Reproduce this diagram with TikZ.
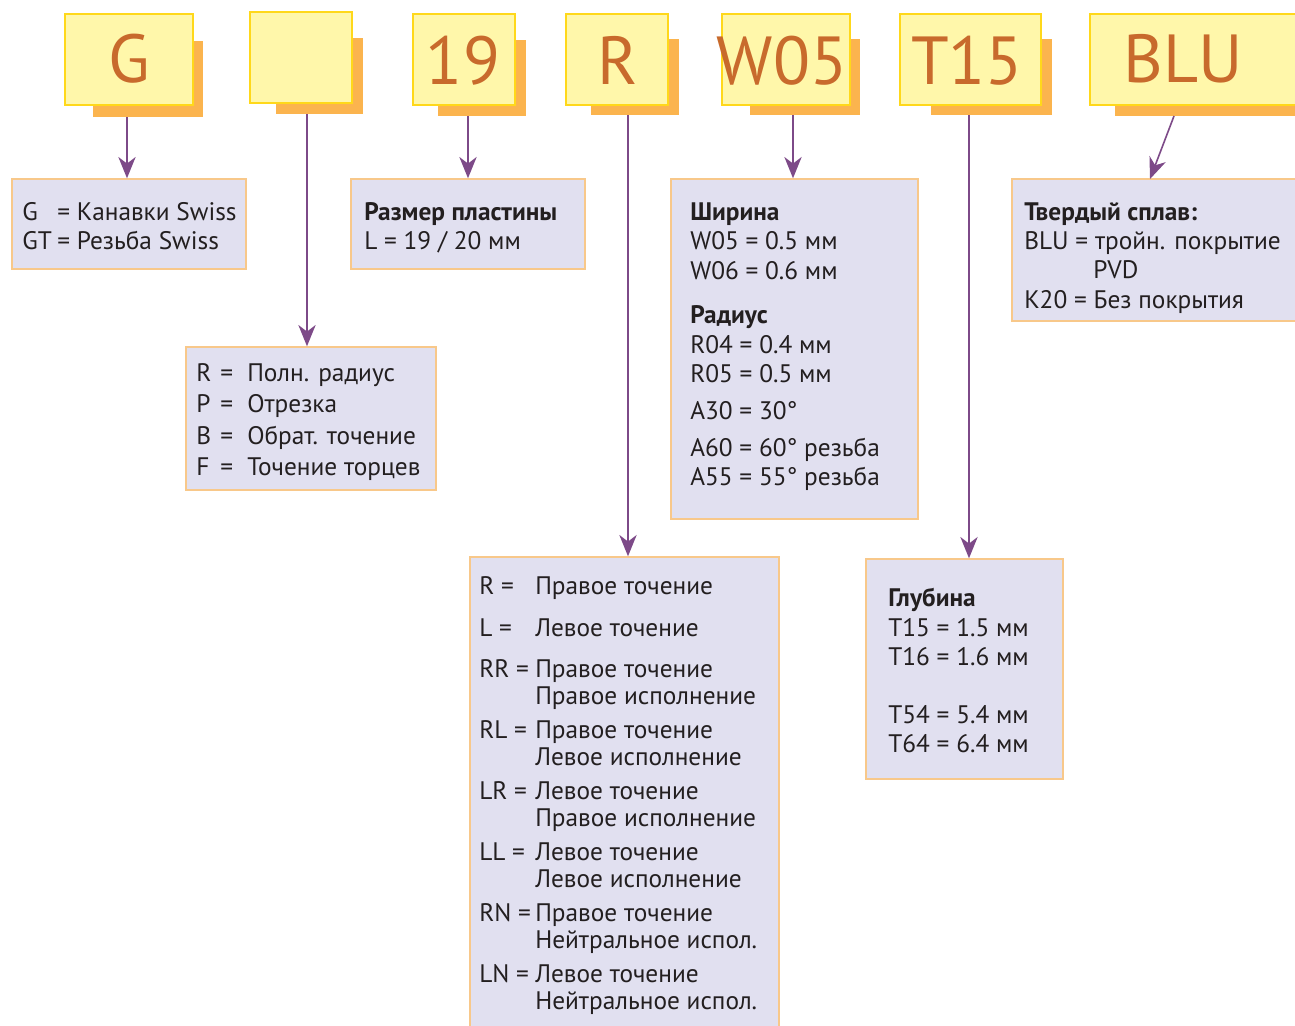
\documentclass[tikz,border=0pt]{standalone}
\usepackage{fontspec}
\setmainfont{PT Sans}
\usetikzlibrary{fit,arrows.meta}
\definecolor{frontfill}{HTML}{FFF7AA}
\definecolor{frontdraw}{HTML}{FFD81A}
\definecolor{shadowc}{HTML}{FBB44E}
\definecolor{bigtxt}{HTML}{C86A2C}
\definecolor{lowfill}{HTML}{E1E0F0}
\definecolor{lowdraw}{HTML}{F8C88A}
\definecolor{arrc}{HTML}{7D4A88}
\definecolor{txtc}{HTML}{231F20}
\tikzset{
  shadowbox/.style={fill=shadowc, draw=none, inner sep=0pt},
  frontbox/.style={fill=frontfill, draw=frontdraw, line width=1.2pt, inner sep=0pt},
  lowbox/.style={fill=lowfill, draw=lowdraw, line width=1.1pt, inner sep=0pt},
  bigletter/.style={font=\fontsize{51}{51}\selectfont, text=bigtxt, inner sep=0pt, anchor=base},
  txt/.style={font=\fontsize{19}{20}\selectfont, text=txtc, inner sep=0pt, anchor=base west},
  btxt/.style={txt, font=\fontsize{19}{20}\selectfont\bfseries},
  arr/.style={draw=arrc, line width=1.2pt, -{Stealth[length=16pt,width=13pt,inset=5pt]}}
}
\begin{document}
\begin{tikzpicture}[x=0.75pt,y=-0.75pt]
\useasboundingbox (0,0) rectangle (1295,1025);
% shadows
\node[shadowbox, fit={(93,41) (203,117)}] (sG) {};
\node[shadowbox, fit={(276,38) (363,114)}] (s2) {};
\node[shadowbox, fit={(438,40) (526,116)}] (s19) {};
\node[shadowbox, fit={(591,39) (679,115)}] (sR) {};
\node[shadowbox, fit={(750,39) (860,115)}] (sW) {};
\node[shadowbox, fit={(931,39) (1052,115)}] (sT) {};
\node[shadowbox, fit={(1115,39) (1295,116)}] (sB) {};
% fronts
\node[frontbox, fit={(65,14) (193,105)}] (fG) {};
\node[frontbox, fit={(250,12) (352,103)}] (f2) {};
\node[frontbox, fit={(413,14) (515,105)}] (f19) {};
\node[frontbox, fit={(566,14) (668,105)}] (fR) {};
\node[frontbox, fit={(722,14) (850,105)}] (fW) {};
\node[frontbox, fit={(900,14) (1041,105)}] (fT) {};
\node[frontbox, fit={(1090,14) (1300,105)}] (fB) {};
% big letters
\node[bigletter] (tG) at (129,82) {G};
\node[bigletter] (t19) at (463,84) {19};
\node[bigletter] (tR) at (618,84) {R};
\node[bigletter] (tW) at (782,84) {W05};
\node[bigletter] (tT) at (967,84) {T15};
\node[bigletter] (tB) at (1183,82) {BLU};
% lower boxes
\node[lowbox, fit={(12,179) (246,269)}] (bG) {};
\node[lowbox, fit={(351,179) (585,269)}] (b19) {};
\node[lowbox, fit={(671,179) (918,519)}] (bW) {};
\node[lowbox, fit={(1012,179) (1300,321)}] (bB) {};
\node[lowbox, fit={(186,347) (436,490)}] (bP) {};
\node[lowbox, fit={(470,557) (779,1030)}] (bR) {};
\node[lowbox, fit={(866,559) (1063,779)}] (bT) {};
% arrow x coordinates
\coordinate (aG) at (127,0);
\coordinate (a2) at (307,0);
\coordinate (a19) at (468,0);
\coordinate (aR) at (628,0);
\coordinate (aW) at (793,0);
\coordinate (aT) at (969,0);
\coordinate (aB1) at (1174,116);
\coordinate (aB2) at (1150,179);
\draw[arr] (sG.south -| aG) -- (bG.north -| aG);
\draw[arr] (s2.south -| a2) -- (bP.north -| a2);
\draw[arr] (s19.south -| a19) -- (b19.north -| a19);
\draw[arr] (sR.south -| aR) -- (bR.north -| aR);
\draw[arr] (sW.south -| aW) -- (bW.north -| aW);
\draw[arr] (sT.south -| aT) -- (bT.north -| aT);
\draw[arr] (aB1) -- (aB2);
% box G
\node[txt] (g1a) at (22,220) {G};
\node[txt] (g1b) at (57,220) {= Канавки Swiss};
\node[txt] (g2a) at (22,249) {GT};
\node[txt] (g2b) at (57,249) {= Резьба Swiss};
% box 19
\node[btxt] (n1) at (364,220) {Размер пластины};
\node[txt] (n2) at (364,249) {L = 19 / 20 мм};
% box P
\node[txt] (p1a) at (196,381) {R};
\node[txt] (p1b) at (220,381) {=};
\node[txt] (p1c) at (247,381) {Полн. радиус};
\node[txt] (p2a) at (196,412) {P};
\node[txt] (p2b) at (220,412) {=};
\node[txt] (p2c) at (247,412) {Отрезка};
\node[txt] (p3a) at (196,444) {B};
\node[txt] (p3b) at (220,444) {=};
\node[txt] (p3c) at (247,444) {Обрат. точение};
\node[txt] (p4a) at (196,475) {F};
\node[txt] (p4b) at (220,475) {=};
\node[txt] (p4c) at (247,475) {Точение торцев};
% box W
\node[btxt] (w1) at (690,220) {Ширина};
\node[txt] (w2) at (690,249) {W05 = 0.5 мм};
\node[txt] (w3) at (690,279) {W06 = 0.6 мм};
\node[btxt] (w4) at (690,323) {Радиус};
\node[txt] (w5) at (690,353) {R04 = 0.4 мм};
\node[txt] (w6) at (690,382) {R05 = 0.5 мм};
\node[txt] (w7) at (690,419) {A30 = 30°};
\node[txt] (w8) at (690,456) {A60 = 60° резьба};
\node[txt] (w9) at (690,485) {A55 = 55° резьба};
% box BLU
\node[btxt] (k1) at (1024,220) {Твердый сплав:};
\node[txt] (k2) at (1024,249) {BLU = тройн. покрытие};
\node[txt] (k3) at (1093,278) {PVD};
\node[txt] (k4) at (1024,308) {K20 = Без покрытия};
% box R
\node[txt] (r1a) at (479,594) {R =};
\node[txt] (r1b) at (535,594) {Правое точение};
\node[txt] (r2a) at (479,636) {L =};
\node[txt] (r2b) at (535,636) {Левое точение};
\node[txt] (r3a) at (479,677) {RR =};
\node[txt] (r3b) at (535,677) {Правое точение};
\node[txt] (r3c) at (535,704) {Правое исполнение};
\node[txt] (r4a) at (479,738) {RL =};
\node[txt] (r4b) at (535,738) {Правое точение};
\node[txt] (r4c) at (535,765) {Левое исполнение};
\node[txt] (r5a) at (479,799) {LR =};
\node[txt] (r5b) at (535,799) {Левое точение};
\node[txt] (r5c) at (535,826) {Правое исполнение};
\node[txt] (r6a) at (479,860) {LL =};
\node[txt] (r6b) at (535,860) {Левое точение};
\node[txt] (r6c) at (535,887) {Левое исполнение};
\node[txt] (r7a) at (479,921) {RN =};
\node[txt] (r7b) at (535,921) {Правое точение};
\node[txt] (r7c) at (535,948) {Нейтральное испол.};
\node[txt] (r8a) at (479,982) {LN =};
\node[txt] (r8b) at (535,982) {Левое точение};
\node[txt] (r8c) at (535,1009) {Нейтральное испол.};
% box T
\node[btxt] (d1) at (888,606) {Глубина};
\node[txt] (d2) at (888,636) {T15 = 1.5 мм};
\node[txt] (d3) at (888,665) {T16 = 1.6 мм};
\node[txt] (d4) at (888,723) {T54 = 5.4 мм};
\node[txt] (d5) at (888,752) {T64 = 6.4 мм};
\end{tikzpicture}
\end{document}
